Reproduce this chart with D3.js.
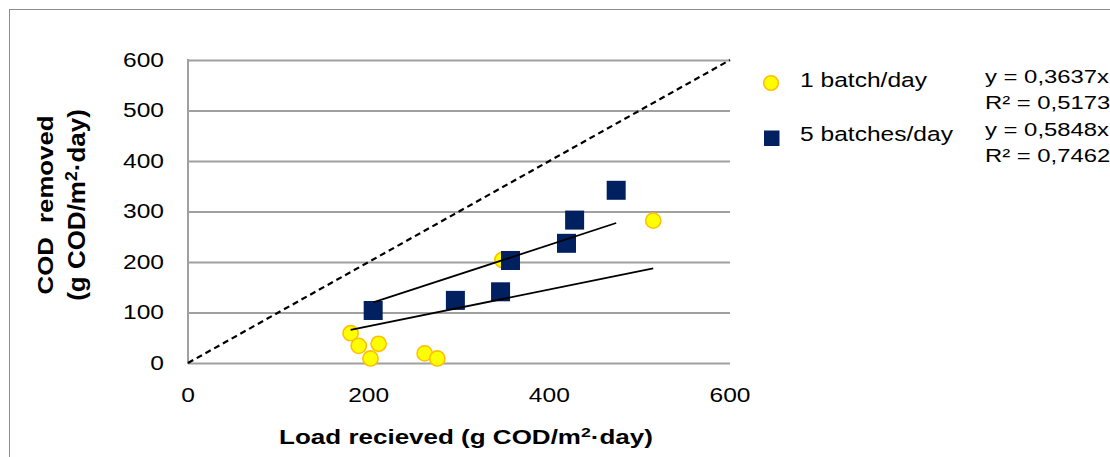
<!DOCTYPE html>
<html>
<head>
<meta charset="utf-8">
<script src="https://cdn.jsdelivr.net/npm/d3@7"></script>
<style>
  html, body { margin: 0; padding: 0; background: #fff; }
  svg { display: block; font-family: "Liberation Sans", Arial, sans-serif; }
  text { white-space: pre; }
</style>
</head>
<body>
<svg id="chart" width="1110" height="457"></svg>
<script>
// COD load received vs. COD removed for two feeding regimes
const batch1Load    = [180, 189, 202, 211, 262, 276, 348, 515];
const batch1Removed = [59, 34, 9, 38, 19, 9, 204, 282];
const batch5Load    = [205, 296, 346, 357, 419, 428, 474];
const batch5Removed = [104, 124, 141, 203, 237, 283, 342];

// Linear trendlines forced through the origin
const trendSlopes = [0.3637, 0.5848];
const trendR2     = ["0,5173", "0,7462"];
const trendSlopeText = ["0,3637", "0,5848"];

const seriesNames = ["1 batch/day", "5 batches/day"];
const xTicks = [0, 200, 400, 600];
const yTicks = [0, 100, 200, 300, 400, 500, 600];
// unit label pieces: text before the superscript, superscript, text after
const xTitleParts = ["Load recieved (g COD/m", "2", "·day)"];
const yTitleLine1 = "COD  removed";
const yTitleParts = ["(g COD/m", "2", "·day)"];

const W = 1110, H = 457;
const plot = { left: 188, right: 730, top: 60, bottom: 363 };
const textStretch = 1.26;

const svg = d3.select("#chart");

const x = d3.scaleLinear().domain([0, 600]).range([plot.left, plot.right]);
const y = d3.scaleLinear().domain([0, 600]).range([plot.bottom, plot.top]);

// chart frame
svg.append("rect")
  .attr("x", 9.5).attr("y", 9.5)
  .attr("width", W + 20).attr("height", H + 20)
  .attr("fill", "#fff").attr("stroke", "#8c8c8c").attr("stroke-width", 1);

// stretched text helper
function label(g, str, tx, ty, opts = {}) {
  const size = opts.size || 19.5;
  const t = g.append("text")
    .attr("transform", `translate(${tx},${ty})` + (opts.rotate ? ` rotate(${opts.rotate})` : "") + ` scale(${opts.sx || textStretch},1)`)
    .attr("font-size", size)
    .attr("font-weight", opts.bold ? "bold" : "normal")
    .attr("text-anchor", opts.anchor || "start")
    .attr("fill", "#000");
  if (Array.isArray(str)) {
    const lift = (size * 0.36).toFixed(2);
    t.append("tspan").text(str[0]);
    t.append("tspan").attr("font-size", size * 0.68).attr("dy", -lift).text(str[1]);
    t.append("tspan").attr("dy", lift).text(str[2]);
  } else {
    t.text(str);
  }
  return t;
}

// horizontal gridlines via the axis generator
const yGrid = svg.append("g")
  .attr("transform", `translate(${plot.left},0)`)
  .call(d3.axisLeft(y).tickValues(yTicks).tickSize(-(plot.right - plot.left)).tickFormat(""));
yGrid.select(".domain").remove();
yGrid.selectAll(".tick line").attr("stroke", "#a0a0a0").attr("stroke-width", 2);

// vertical axis line
svg.append("line")
  .attr("x1", plot.left).attr("x2", plot.left)
  .attr("y1", y(600) - 1).attr("y2", y(0) + 1)
  .attr("stroke", "#a0a0a0").attr("stroke-width", 2);

// tick labels
const yLab = svg.append("g");
yTicks.forEach(v => label(yLab, String(v), 164, y(v) + 6.5, { anchor: "end" }));
const xLab = svg.append("g");
xTicks.forEach(v => label(xLab, String(v), x(v), 402, { anchor: "middle" }));

// axis titles
label(svg, xTitleParts, 466, 444, { anchor: "middle", bold: true, size: 20, sx: 1.3 });
const yt = svg.append("g");
label(yt, yTitleLine1, 53, 205, { anchor: "middle", bold: true, size: 23, sx: 1.12, rotate: -90 });
label(yt, yTitleParts, 85, 205, { anchor: "middle", bold: true, size: 23, sx: 1.13, rotate: -90 });

// 1 batch/day markers
const b1 = batch1Load.map((v, i) => ({ x: v, y: batch1Removed[i] }));
svg.append("g").selectAll("circle").data(b1).join("circle")
  .attr("cx", d => x(d.x)).attr("cy", d => y(d.y)).attr("r", 7.6)
  .attr("fill", "#ffff00").attr("stroke", "#ffc000").attr("stroke-width", 1.6);

// 5 batches/day markers
const b5 = batch5Load.map((v, i) => ({ x: v, y: batch5Removed[i] }));
const sq = 19;
svg.append("g").selectAll("rect").data(b5).join("rect")
  .attr("x", d => x(d.x) - sq / 2).attr("y", d => y(d.y) - sq / 2)
  .attr("width", sq).attr("height", sq)
  .attr("fill", "#002060");

// trendlines across each series' load range
const line = d3.line().x(d => x(d[0])).y(d => y(d[1]));
[batch1Load, batch5Load].forEach((loads, i) => {
  const [lo, hi] = d3.extent(loads);
  svg.append("path")
    .attr("d", line([[lo, lo * trendSlopes[i]], [hi, hi * trendSlopes[i]]]))
    .attr("fill", "none").attr("stroke", "#000").attr("stroke-width", 1.8);
});

// 1:1 reference line
svg.append("path")
  .attr("d", line([[0, 0], [600, 600]]))
  .attr("fill", "none").attr("stroke", "#000").attr("stroke-width", 2.2)
  .attr("stroke-dasharray", "6,4");

// legend
const lg = svg.append("g");
lg.append("circle").attr("cx", 771).attr("cy", 83).attr("r", 7.3)
  .attr("fill", "#ffff00").attr("stroke", "#ffc000").attr("stroke-width", 1.6);
label(lg, seriesNames[0], 800, 86.5);
lg.append("rect").attr("x", 764).attr("y", 130.5).attr("width", 15.5).attr("height", 15.5)
  .attr("fill", "#002060");
label(lg, seriesNames[1], 800, 140.5);

// trendline equations
const eq = svg.append("g");
const eqLines = [
  `y = ${trendSlopeText[0]}x`, `R² = ${trendR2[0]}`,
  `y = ${trendSlopeText[1]}x`, `R² = ${trendR2[1]}`
];
eqLines.forEach((s, i) => label(eq, s, 985, 82.5 + i * 26.5, { size: 18.8, sx: 1.27 }));
</script>
</body>
</html>
